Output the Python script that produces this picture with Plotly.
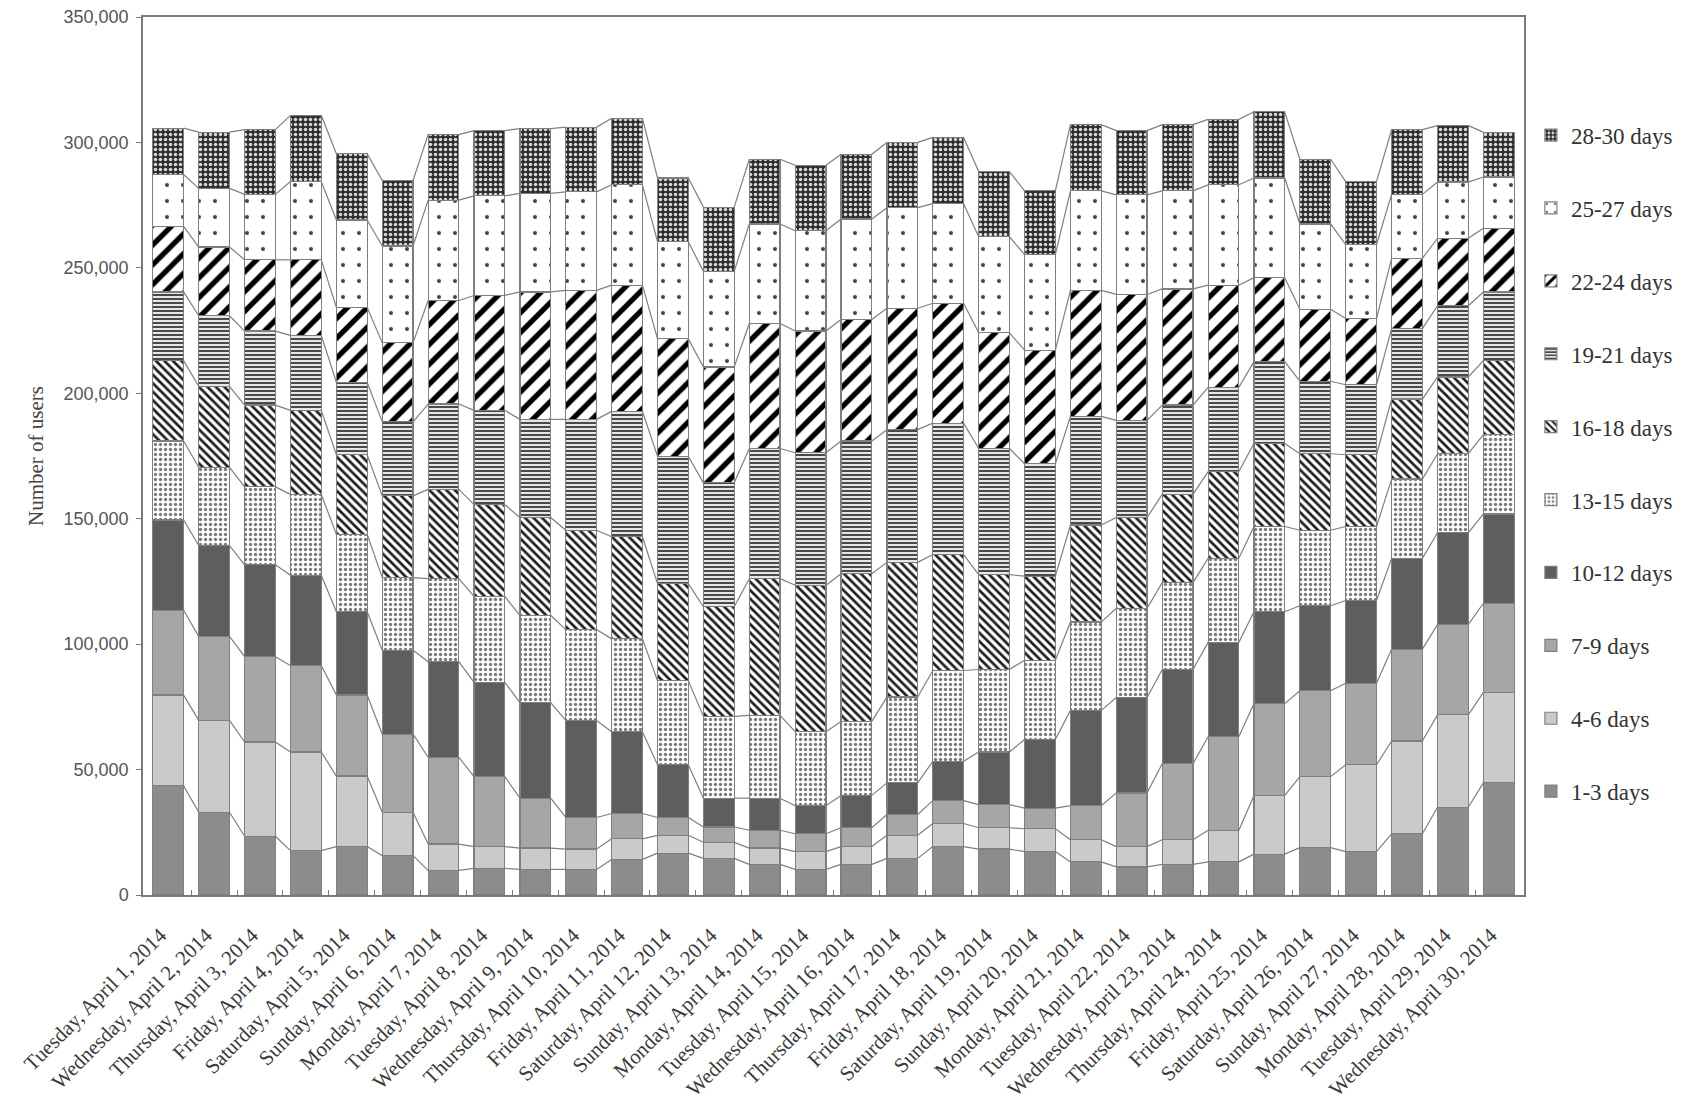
import numpy as np
import plotly.graph_objects as go

# Calendar days (April 2014)
days = [
    "Tuesday, April 1, 2014", "Wednesday, April 2, 2014", "Thursday, April 3, 2014",
    "Friday, April 4, 2014", "Saturday, April 5, 2014", "Sunday, April 6, 2014",
    "Monday, April 7, 2014", "Tuesday, April 8, 2014", "Wednesday, April 9, 2014",
    "Thursday, April 10, 2014", "Friday, April 11, 2014", "Saturday, April 12, 2014",
    "Sunday, April 13, 2014", "Monday, April 14, 2014", "Tuesday, April 15, 2014",
    "Wednesday, April 16, 2014", "Thursday, April 17, 2014", "Friday, April 18, 2014",
    "Saturday, April 19, 2014", "Sunday, April 20, 2014", "Monday, April 21, 2014",
    "Tuesday, April 22, 2014", "Wednesday, April 23, 2014", "Thursday, April 24, 2014",
    "Friday, April 25, 2014", "Saturday, April 26, 2014", "Sunday, April 27, 2014",
    "Monday, April 28, 2014", "Tuesday, April 29, 2014", "Wednesday, April 30, 2014",
]

# Number of users per activity band (days active in the last 30 days)
d01_03 = [43500, 33000, 23400, 17700, 19300, 15700, 9800, 10600, 10200, 10200,
          14200, 16700, 14600, 12200, 10200, 12200, 14600, 19300, 18300, 17300,
          13200, 11200, 12200, 13200, 16300, 18900, 17300, 24400, 35000, 44700]
d04_06 = [36200, 36600, 37600, 39300, 28100, 17300, 10500, 8700, 8500, 8100,
          8200, 7100, 6400, 6500, 7100, 7100, 9200, 9200, 8500, 9100,
          8800, 8100, 9800, 12600, 23400, 28300, 34600, 37000, 36800, 36100]
d07_09 = [33800, 33500, 34000, 34500, 32300, 31100, 34600, 27900, 19900, 12600,
          10100, 7100, 6100, 7100, 7100, 7500, 8300, 9100, 9200, 8200,
          13600, 21400, 30300, 37300, 36600, 34200, 32500, 36600, 36000, 35500]
d10_12 = [36000, 36200, 36600, 36000, 33200, 33500, 38100, 37600, 38100, 38700,
          32600, 21000, 11500, 12800, 11200, 12900, 12600, 15700, 21000, 27400,
          38000, 38000, 37600, 37600, 36600, 33900, 33000, 36200, 36600, 35600]
d13_15 = [31500, 31200, 31100, 32200, 30900, 28900, 33100, 34200, 34800, 36200,
          37000, 33500, 32600, 33000, 29500, 29500, 34200, 36200, 32900, 31600,
          35200, 35600, 34600, 33500, 34000, 30100, 29500, 31600, 31500, 31600]
d16_18 = [32000, 32300, 32600, 33500, 31700, 32600, 35600, 36600, 39000, 39600,
          40700, 38700, 43700, 54500, 58400, 58900, 53700, 46200, 37800, 33500,
          38700, 36200, 35200, 34600, 33100, 30500, 28600, 31900, 30600, 29500]
d19_21 = [27400, 28100, 29500, 29900, 28900, 29500, 34000, 37600, 39100, 44200,
          50000, 50800, 49400, 51900, 52800, 52900, 52900, 52400, 50300, 44800,
          43300, 38700, 35600, 33600, 32600, 28900, 27900, 28100, 28400, 27400]
d22_24 = [26100, 27400, 28400, 30100, 29900, 31500, 41300, 45800, 50800, 51400,
          50300, 46800, 46200, 49800, 48500, 48400, 48400, 47800, 46100, 45300,
          50200, 50200, 46300, 40700, 33500, 28700, 26400, 28000, 26900, 25400]
d25_27 = [20700, 23400, 26100, 31200, 34800, 38600, 40000, 39700, 39300, 39300,
          40000, 38700, 38100, 39700, 40000, 40100, 40100, 39700, 38300, 38100,
          39700, 39700, 39100, 40000, 39700, 34000, 29500, 25500, 22400, 20400]
d28_30 = [18500, 22400, 25800, 26400, 26400, 26100, 26100, 26000, 25800, 25800,
          26500, 25400, 25600, 25800, 26100, 25800, 26000, 26400, 26000, 25400,
          26400, 25600, 26400, 26100, 26400, 25800, 25100, 25800, 22500, 17900]

band_names = ["1-3 days", "4-6 days", "7-9 days", "10-12 days", "13-15 days",
              "16-18 days", "19-21 days", "22-24 days", "25-27 days", "28-30 days"]
band_values = [d01_03, d04_06, d07_09, d10_12, d13_15,
               d16_18, d19_21, d22_24, d25_27, d28_30]

y_ticks = [0, 50000, 100000, 150000, 200000, 250000, 300000, 350000]

# Fill style of each band: (background, foreground, pattern shape, size, solidity)
styles = [
    ("#8c8c8c", None, "", 8, 0.3),
    ("#cacaca", None, "", 8, 0.3),
    ("#a6a6a6", None, "", 8, 0.3),
    ("#5e5e5e", None, "", 8, 0.3),
    ("#ffffff", "#7a7a7a", ".", 5, 0.35),
    ("#ffffff", "#1e1e1e", "\\", 6, 0.45),
    ("#e6e6e6", "#4a4a4a", "-", 4, 0.5),
    ("#ffffff", "#000000", "/", 14, 0.38),
    ("#ffffff", "#444444", ".", 16, 0.05),
    ("#2e2e2e", "#d8d8d8", ".", 5, 0.38),
]

BAR_W = 0.67
x = np.arange(len(days))
outline = "#7f7f7f"
serif = "Liberation Serif, Times New Roman, serif"

fig = go.Figure()

n_bands = len(band_names)
for k, (name, vals, (bg, fg, shape, size, sol)) in enumerate(
        zip(band_names, band_values, styles)):
    marker = dict(color=bg, line=dict(color=outline, width=1.2))
    if shape:
        marker["pattern"] = dict(shape=shape, bgcolor=bg, fgcolor=fg,
                                 size=size, solidity=sol, fillmode="replace")
    # highest band listed first in the legend
    fig.add_trace(go.Bar(x=x, y=vals, name=name, width=BAR_W, marker=marker,
                         legendgroup=name, legendrank=n_bands - k,
                         hoverinfo="name+y"))

# Series lines joining the top of each band from one bar to the next
cum = np.cumsum(np.array(band_values, dtype=float), axis=0)
for level in cum:
    lx, ly = [], []
    for i in range(len(days) - 1):
        lx += [x[i] + BAR_W / 2, x[i + 1] - BAR_W / 2, None]
        ly += [level[i], level[i + 1], None]
    fig.add_trace(go.Scatter(x=lx, y=ly, mode="lines", showlegend=False,
                             hoverinfo="skip",
                             line=dict(color=outline, width=1.2)))

fig.update_layout(
    barmode="stack",
    width=1690, height=1116,
    margin=dict(l=143, r=163, t=17, b=221),
    paper_bgcolor="white", plot_bgcolor="white",
    font=dict(family=serif, color="#333333"),
    showlegend=True,
    legend=dict(
        traceorder="grouped", x=1.005, xanchor="left", y=0.89, yanchor="top",
        font=dict(family=serif, size=23, color="#333333"),
        tracegroupgap=40, itemwidth=30, bgcolor="rgba(0,0,0,0)",
    ),
    xaxis=dict(
        tickmode="array", tickvals=list(x), ticktext=days, tickangle=-45,
        tickfont=dict(family=serif, size=21, color="#3a3a3a"),
        ticklabelstandoff=18, ticklabelshift=-8, automargin=False,
        range=[-0.55, len(days) - 0.45],
        showline=True, mirror=True, linecolor="#7a7a7a", linewidth=1.5,
        ticks="", showgrid=False, zeroline=False,
        minor=dict(tickmode="array", tickvals=[i + 0.5 for i in x[:-1]],
                   ticks="inside", ticklen=5, tickcolor="#7a7a7a"),
    ),
    yaxis=dict(
        title=dict(text="Number of users", font=dict(family=serif, size=21, color="#444444"),
                   standoff=14),
        tickmode="array", tickvals=y_ticks,
        ticktext=[f"{v:,}" for v in y_ticks],
        tickfont=dict(family="Liberation Sans, Arial, sans-serif", size=18, color="#555555"),
        ticklabelstandoff=4, automargin=False,
        range=[0, 350000],
        showline=True, mirror=True, linecolor="#7a7a7a", linewidth=1.5,
        ticks="outside", ticklen=5, tickcolor="#7a7a7a",
        showgrid=False, zeroline=False,
    ),
)

fig.write_html("out.html")
